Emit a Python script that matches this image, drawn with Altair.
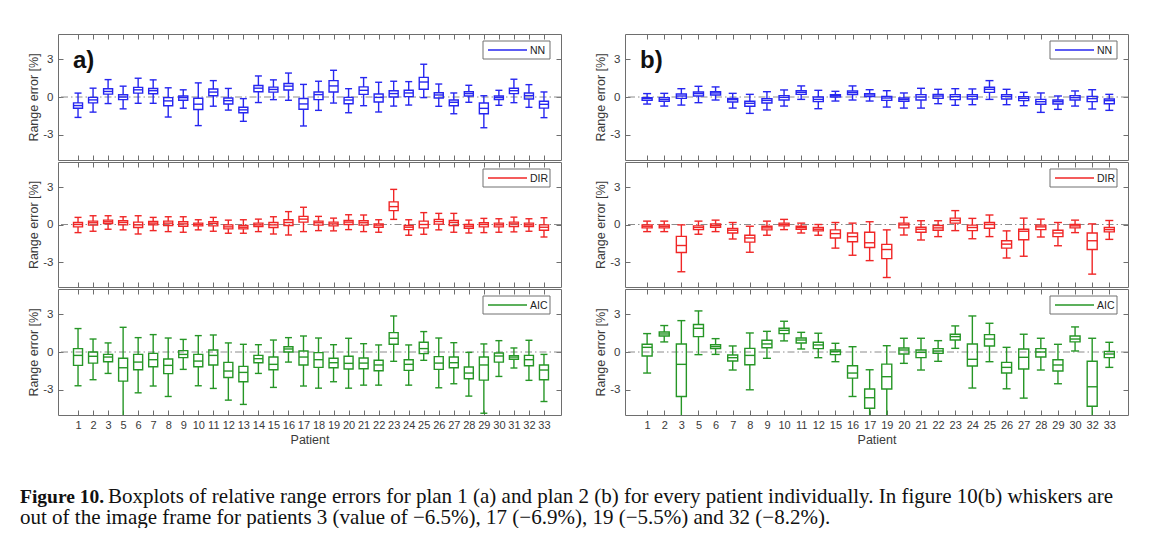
import altair as alt
import pandas as pd

# ---------------- categories ----------------
A_PATIENTS = [1, 2, 3, 5, 6, 7, 8, 9, 10, 11, 12, 13, 14, 15, 16, 17, 18, 19, 20, 21, 22, 23, 24, 25, 26, 27, 28, 29, 30, 31, 32, 33]
B_PATIENTS = [1, 2, 3, 5, 6, 7, 8, 9, 10, 11, 12, 15, 16, 17, 19, 20, 21, 22, 23, 24, 25, 26, 27, 28, 29, 30, 32, 33]
Y_TICKS = [-3, 0, 3]

# ---------------- plan 1 (a) ----------------
A_NN_LO = [-1.62, -1.20, -0.52, -0.94, -0.50, -0.50, -1.59, -0.89, -2.27, -0.73, -1.04, -1.93, -0.44, -0.21, -0.26, -2.30, -1.06, -0.48, -1.25, -0.69, -1.19, -0.72, -0.64, -0.05, -0.74, -1.33, -0.42, -2.44, -0.66, -0.45, -0.82, -1.64]
A_NN_Q1 = [-0.89, -0.47, 0.23, -0.21, 0.31, 0.26, -0.70, -0.26, -0.99, 0.10, -0.55, -1.25, 0.42, 0.39, 0.55, -0.97, -0.21, 0.40, -0.53, 0.21, -0.40, 0.00, 0.03, 0.61, -0.08, -0.69, 0.08, -1.33, -0.21, 0.27, -0.16, -0.88]
A_NN_MED = [-0.68, -0.23, 0.44, 0.00, 0.57, 0.50, -0.31, -0.05, -0.57, 0.39, -0.29, -1.02, 0.70, 0.60, 0.86, -0.55, 0.19, 0.88, -0.24, 0.53, -0.03, 0.27, 0.32, 1.19, 0.16, -0.42, 0.27, -0.90, -0.05, 0.50, 0.11, -0.58]
A_NN_Q3 = [-0.47, -0.03, 0.65, 0.18, 0.76, 0.68, -0.05, 0.08, -0.10, 0.63, -0.08, -0.81, 0.91, 0.78, 1.07, -0.12, 0.40, 1.30, -0.03, 0.80, 0.24, 0.50, 0.53, 1.56, 0.34, -0.24, 0.42, -0.48, 0.08, 0.69, 0.32, -0.34]
A_NN_HI = [0.31, 0.70, 1.38, 0.86, 1.49, 1.36, 0.73, 0.57, 1.12, 1.30, 0.68, -0.13, 1.67, 1.36, 1.90, 1.00, 1.25, 2.12, 0.66, 1.54, 1.17, 1.25, 1.22, 2.60, 1.03, 0.32, 0.93, 0.10, 0.53, 1.41, 0.98, 0.40]

A_DIR_LO = [-0.65, -0.54, -0.38, -0.43, -0.76, -0.49, -0.57, -0.62, -0.43, -0.54, -0.70, -0.70, -0.57, -0.76, -0.84, -0.57, -0.49, -0.51, -0.41, -0.57, -0.62, 0.41, -0.86, -0.78, -0.43, -0.62, -0.68, -0.65, -0.62, -0.59, -0.54, -1.00]
A_DIR_Q1 = [-0.19, -0.05, 0.08, -0.03, -0.24, -0.03, -0.08, -0.14, -0.11, -0.11, -0.35, -0.35, -0.16, -0.24, -0.08, 0.19, -0.05, -0.11, 0.00, -0.05, -0.22, 1.11, -0.41, -0.27, 0.03, -0.08, -0.30, -0.19, -0.19, -0.16, -0.16, -0.46]
A_DIR_MED = [0.00, 0.14, 0.22, 0.16, -0.03, 0.11, 0.11, 0.05, 0.00, 0.08, -0.19, -0.22, -0.03, -0.03, 0.16, 0.43, 0.14, 0.05, 0.19, 0.14, -0.05, 1.43, -0.22, 0.00, 0.24, 0.16, -0.14, 0.00, -0.03, 0.05, -0.03, -0.22]
A_DIR_Q3 = [0.16, 0.27, 0.35, 0.30, 0.19, 0.24, 0.27, 0.22, 0.11, 0.22, -0.03, -0.08, 0.11, 0.16, 0.38, 0.65, 0.27, 0.19, 0.32, 0.30, 0.05, 1.81, -0.08, 0.27, 0.41, 0.32, 0.00, 0.14, 0.11, 0.19, 0.11, -0.03]
A_DIR_HI = [0.57, 0.70, 0.70, 0.62, 0.70, 0.57, 0.62, 0.62, 0.38, 0.57, 0.35, 0.38, 0.43, 0.62, 1.03, 1.38, 0.65, 0.51, 0.78, 0.76, 0.38, 2.81, 0.38, 0.95, 0.89, 0.89, 0.35, 0.49, 0.46, 0.59, 0.46, 0.54]

A_AIC_LO = [-2.68, -2.20, -1.70, -5.10, -3.24, -2.70, -3.53, -1.38, -2.68, -2.89, -3.82, -4.16, -1.70, -2.81, -0.80, -2.70, -2.87, -2.36, -2.87, -2.63, -2.63, -0.74, -2.63, -0.66, -2.84, -2.52, -3.50, -4.86, -1.94, -1.27, -2.25, -3.93]
A_AIC_Q1 = [-1.06, -0.88, -0.77, -2.31, -1.41, -1.17, -1.72, -0.45, -1.17, -1.03, -2.02, -2.36, -0.85, -1.41, 0.00, -1.03, -1.22, -1.25, -1.35, -1.33, -1.49, 0.61, -1.46, -0.13, -1.38, -1.25, -2.12, -2.23, -0.80, -0.58, -1.09, -2.20]
A_AIC_MED = [-0.27, -0.34, -0.40, -1.25, -0.80, -0.61, -1.06, -0.19, -0.72, -0.27, -1.51, -1.62, -0.53, -0.98, 0.24, -0.40, -0.61, -0.85, -0.90, -0.88, -1.03, 1.09, -0.98, 0.27, -0.88, -0.85, -1.67, -1.03, -0.32, -0.40, -0.61, -1.43]
A_AIC_Q3 = [0.27, 0.00, -0.19, -0.50, -0.19, -0.11, -0.56, 0.11, -0.19, 0.16, -0.82, -1.14, -0.27, -0.40, 0.42, 0.08, -0.05, -0.50, -0.34, -0.48, -0.66, 1.54, -0.61, 0.77, -0.37, -0.40, -1.19, -0.40, -0.08, -0.29, -0.27, -1.03]
A_AIC_HI = [1.86, 1.03, 0.72, 1.96, 1.14, 1.38, 1.11, 1.00, 1.30, 1.35, 0.72, 0.61, 0.58, 0.95, 1.14, 1.27, 1.11, 0.58, 1.09, 0.66, 0.56, 2.86, 0.56, 1.62, 1.11, 0.74, -0.03, 0.64, 0.90, 0.32, 0.93, -0.19]

# ---------------- plan 2 (b) ----------------
B_NN_LO = [-0.56, -0.72, -0.64, -0.45, -0.24, -0.88, -1.30, -1.03, -0.72, -0.19, -0.93, -0.32, -0.24, -0.32, -0.80, -0.88, -0.88, -0.53, -0.66, -0.61, -0.19, -0.61, -0.69, -1.22, -0.98, -0.72, -0.95, -1.06]
B_NN_Q1 = [-0.27, -0.34, -0.11, 0.08, 0.16, -0.40, -0.74, -0.48, -0.24, 0.21, -0.37, 0.00, 0.19, 0.03, -0.27, -0.34, -0.24, -0.11, -0.21, -0.16, 0.37, -0.16, -0.29, -0.58, -0.56, -0.24, -0.37, -0.53]
B_NN_MED = [-0.13, -0.19, 0.08, 0.27, 0.32, -0.21, -0.50, -0.27, -0.03, 0.37, -0.19, 0.11, 0.34, 0.16, -0.08, -0.19, 0.00, 0.08, 0.03, 0.05, 0.61, 0.05, -0.11, -0.37, -0.37, -0.05, -0.13, -0.29]
B_NN_Q3 = [-0.05, -0.05, 0.24, 0.40, 0.42, -0.11, -0.34, -0.13, 0.11, 0.50, 0.00, 0.19, 0.48, 0.27, 0.05, -0.08, 0.19, 0.21, 0.19, 0.19, 0.77, 0.19, 0.03, -0.19, -0.24, 0.11, 0.05, -0.16]
B_NN_HI = [0.27, 0.29, 0.66, 0.85, 0.80, 0.29, 0.21, 0.42, 0.56, 0.88, 0.53, 0.45, 0.88, 0.58, 0.50, 0.32, 0.69, 0.61, 0.66, 0.64, 1.30, 0.61, 0.37, 0.32, 0.08, 0.48, 0.58, 0.21]

B_DIR_LO = [-0.57, -0.57, -3.78, -0.78, -0.57, -1.16, -2.22, -0.86, -0.41, -0.68, -0.86, -1.89, -2.46, -2.89, -4.24, -0.84, -1.24, -0.97, -0.49, -1.14, -0.97, -2.68, -2.54, -1.00, -1.70, -0.65, -3.97, -1.19]
B_DIR_Q1 = [-0.27, -0.27, -2.24, -0.41, -0.22, -0.68, -1.41, -0.43, -0.11, -0.38, -0.51, -1.08, -1.38, -1.84, -2.73, -0.27, -0.62, -0.46, 0.11, -0.49, -0.30, -1.89, -1.22, -0.41, -0.97, -0.27, -2.00, -0.59]
B_DIR_MED = [-0.14, -0.14, -1.68, -0.24, -0.08, -0.46, -1.08, -0.27, 0.00, -0.24, -0.38, -0.73, -0.97, -1.46, -2.00, -0.03, -0.38, -0.27, 0.32, -0.24, 0.00, -1.57, -0.54, -0.19, -0.68, -0.11, -1.30, -0.41]
B_DIR_Q3 = [-0.03, -0.03, -0.95, -0.11, 0.05, -0.32, -0.86, -0.14, 0.11, -0.14, -0.24, -0.43, -0.68, -0.62, -1.59, 0.11, -0.22, -0.08, 0.51, -0.05, 0.16, -1.30, -0.38, -0.05, -0.46, 0.00, -0.68, -0.24]
B_DIR_HI = [0.27, 0.27, -0.03, 0.27, 0.35, 0.16, -0.14, 0.27, 0.41, 0.11, 0.00, 0.16, 0.11, 0.22, -0.43, 0.57, 0.30, 0.30, 1.11, 0.49, 0.76, -0.51, 0.51, 0.43, 0.16, 0.35, 0.05, 0.32]

B_AIC_LO = [-1.67, 0.80, -6.50, -0.21, -0.19, -1.43, -3.00, -0.50, 0.88, 0.24, -0.45, -0.77, -3.53, -6.90, -5.50, -0.90, -1.43, -0.74, 0.29, -2.86, -0.77, -2.92, -3.66, -1.43, -2.52, 0.08, -8.20, -1.22]
B_AIC_Q1 = [-0.32, 1.27, -3.53, 1.22, 0.27, -0.72, -1.01, 0.34, 1.46, 0.72, 0.27, -0.21, -2.07, -4.46, -2.94, -0.16, -0.45, -0.11, 0.95, -1.11, 0.48, -1.67, -1.35, -0.40, -1.51, 0.80, -4.30, -0.45]
B_AIC_MED = [0.37, 1.43, -0.98, 1.88, 0.42, -0.45, -0.27, 0.64, 1.72, 0.95, 0.56, 0.03, -1.67, -3.63, -1.96, 0.16, -0.03, 0.08, 1.22, -0.58, 1.03, -1.22, -0.42, 0.00, -1.03, 1.03, -2.76, -0.16]
B_AIC_Q3 = [0.61, 1.59, 0.64, 2.18, 0.58, -0.24, 0.29, 0.93, 1.88, 1.11, 0.77, 0.16, -1.09, -2.94, -0.96, 0.32, 0.16, 0.27, 1.41, 0.64, 1.38, -0.82, 0.24, 0.27, -0.61, 1.27, -0.74, 0.05]
B_AIC_HI = [1.46, 2.10, 2.49, 3.26, 1.06, 0.48, 1.51, 1.64, 2.44, 1.56, 1.49, 0.69, 0.42, -1.41, 0.50, 1.09, 1.09, 0.90, 2.07, 2.86, 2.28, 0.37, 1.41, 1.09, 0.61, 1.99, 1.09, 0.77]

SERIES_COLORS = {"NN": "#2626f0", "DIR": "#f02626", "AIC": "#269626"}

CAPTION_BOLD = "Figure 10."
CAPTION_LINE1 = "Boxplots of relative range errors for plan 1 (a) and plan 2 (b) for every patient individually. In figure 10(b) whiskers are"
CAPTION_LINE2 = "out of the image frame for patients 3 (value of \u22126.5%), 17 (\u22126.9%), 19 (\u22125.5%) and 32 (\u22128.2%)."

FONT = "Liberation Sans"
SERIF = "Liberation Serif"
AXIS_GREY = "#6e6e6e"
TEXT_GREY = "#3a3a3a"
PANEL_W = 503
HEIGHTS = [126, 125, 126]


def subplot(patients, lo, q1, med, q3, hi, name, width, height,
            box_w, cap_w, bottom_labels, panel_label):
    color = SERIES_COLORS[name]
    n = len(patients)
    df = pd.DataFrame({"idx": list(range(1, n + 1)), "patient": patients,
                       "lo": lo, "q1": q1, "med": med, "q3": q3, "hi": hi})
    one = pd.DataFrame({"k": [0]})
    xscale = alt.Scale(domain=[0, n + 0.8], nice=False, zero=False)
    yscale = alt.Scale(domain=[-5, 5], nice=False, zero=False)
    lab_expr = "[" + ",".join("'%s'" % p for p in patients) + "][datum.value - 1]"
    common = dict(values=list(range(1, n + 1)), offset=-5, tickSize=5, domain=False,
                  grid=False, tickColor=AXIS_GREY, tickWidth=1)
    bottom_axis = alt.Axis(orient="bottom", labels=bottom_labels, labelExpr=lab_expr,
                           title="Patient" if bottom_labels else "",
                           labelFont=FONT, labelFontSize=11, labelColor=TEXT_GREY,
                           labelPadding=4, labelFlush=False, labelOverlap=False,
                           titleFont=FONT, titleFontSize=12.5, titleFontWeight="normal",
                           titleColor=TEXT_GREY, titlePadding=3, **common)
    top_axis = alt.Axis(orient="top", labels=False, title="", **common)
    ycommon = dict(values=Y_TICKS, offset=-5, tickSize=5, domain=False, grid=False,
                   tickColor=AXIS_GREY, tickWidth=1)
    left_axis = alt.Axis(orient="left", labelExpr="'' + datum.value", labelFont=FONT,
                         labelFontSize=11.5, labelColor=TEXT_GREY, labelPadding=5,
                         title="Range error [%]", titleFont=FONT, titleFontSize=12.5,
                         titleFontWeight="normal", titleColor=TEXT_GREY, titlePadding=2,
                         **ycommon)
    right_axis = alt.Axis(orient="right", labels=False, title="", **ycommon)

    base = alt.Chart(df)
    zero = alt.Chart(one).mark_rule(color="#8c8c8c", strokeWidth=1,
                                    strokeDash=[7, 3, 1.5, 3]).encode(
        y=alt.Y(datum=0, type="quantitative", scale=yscale, axis=left_axis))
    w_up = base.mark_rule(color=color, strokeWidth=1.4, clip=True).encode(
        x=alt.X("idx:Q", scale=xscale, axis=bottom_axis),
        y=alt.Y("q3:Q", scale=yscale, axis=right_axis), y2="hi:Q")
    w_dn = base.mark_rule(color=color, strokeWidth=1.4, clip=True).encode(
        x=alt.X("idx:Q", scale=xscale, axis=top_axis),
        y=alt.Y("lo:Q", scale=yscale, axis=None), y2="q1:Q")
    box = base.mark_bar(size=box_w, fillOpacity=0, stroke=color, strokeWidth=1.4,
                        clip=True).encode(
        x=alt.X("idx:Q", scale=xscale, axis=None),
        y=alt.Y("q1:Q", scale=yscale, axis=None), y2="q3:Q")
    median = base.mark_tick(orient="horizontal", size=box_w, thickness=1.4,
                            color=color, opacity=1, clip=True).encode(
        x=alt.X("idx:Q", scale=xscale, axis=None),
        y=alt.Y("med:Q", scale=yscale, axis=None))
    cap_hi = base.mark_tick(orient="horizontal", size=cap_w, thickness=1.4,
                            color=color, opacity=1, clip=True).encode(
        x=alt.X("idx:Q", scale=xscale, axis=None),
        y=alt.Y("hi:Q", scale=yscale, axis=None))
    cap_lo = base.mark_tick(orient="horizontal", size=cap_w, thickness=1.4,
                            color=color, opacity=1, clip=True).encode(
        x=alt.X("idx:Q", scale=xscale, axis=None),
        y=alt.Y("lo:Q", scale=yscale, axis=None))
    # legend box (top-right)
    leg_box = alt.Chart(one).mark_rect(fill="white", stroke="#707070", strokeWidth=1).encode(
        x=alt.value(width - 78), x2=alt.value(width - 11),
        y=alt.value(7), y2=alt.value(25))
    leg_line = alt.Chart(one).mark_rule(color=color, strokeWidth=1.3).encode(
        x=alt.value(width - 73), x2=alt.value(width - 34), y=alt.value(16))
    leg_text = alt.Chart(one).mark_text(align="left", baseline="middle", font=FONT,
                                        fontSize=10.5, color="#222222").encode(
        x=alt.value(width - 31), y=alt.value(16.5), text=alt.value(name))
    layers = [zero, w_up, w_dn, box, median, cap_hi, cap_lo, leg_box, leg_line, leg_text]
    if panel_label:
        lab = alt.Chart(one).mark_text(align="left", baseline="middle", font=FONT,
                                       fontSize=24, fontWeight="bold", color="#111111").encode(
            x=alt.value(15), y=alt.value(27), text=alt.value(panel_label))
        layers.append(lab)
    return alt.layer(*layers).resolve_axis(x="independent", y="independent").properties(
        width=width, height=height)


def panel(patients, data, label, box_w, cap_w):
    rows = []
    for i, (name, stats) in enumerate(data):
        rows.append(subplot(patients, *stats, name, PANEL_W, HEIGHTS[i], box_w, cap_w,
                            bottom_labels=(i == 2), panel_label=(label if i == 0 else "")))
    return alt.vconcat(*rows, spacing=0)


panel_a = panel(A_PATIENTS, [
    ("NN", (A_NN_LO, A_NN_Q1, A_NN_MED, A_NN_Q3, A_NN_HI)),
    ("DIR", (A_DIR_LO, A_DIR_Q1, A_DIR_MED, A_DIR_Q3, A_DIR_HI)),
    ("AIC", (A_AIC_LO, A_AIC_Q1, A_AIC_MED, A_AIC_Q3, A_AIC_HI)),
], "a)", 9, 7)

panel_b = panel(B_PATIENTS, [
    ("NN", (B_NN_LO, B_NN_Q1, B_NN_MED, B_NN_Q3, B_NN_HI)),
    ("DIR", (B_DIR_LO, B_DIR_Q1, B_DIR_MED, B_DIR_Q3, B_DIR_HI)),
    ("AIC", (B_AIC_LO, B_AIC_Q1, B_AIC_MED, B_AIC_Q3, B_AIC_HI)),
], "b)", 10, 8)

one = pd.DataFrame({"k": [0]})
cap_bold = alt.Chart(one).mark_text(align="left", baseline="alphabetic", font=SERIF,
                                    fontSize=19.5, fontWeight="bold", color="#111111").encode(
    x=alt.value(-38), y=alt.value(57), text=alt.value(CAPTION_BOLD))
cap_l1 = alt.Chart(one).mark_text(align="left", baseline="alphabetic", font=SERIF,
                                  fontSize=21, color="#111111").encode(
    x=alt.value(50), y=alt.value(57), text=alt.value(CAPTION_LINE1))
cap_l2 = alt.Chart(one).mark_text(align="left", baseline="alphabetic", font=SERIF,
                                  fontSize=21, color="#111111").encode(
    x=alt.value(-38), y=alt.value(78), text=alt.value(CAPTION_LINE2))
caption = alt.layer(cap_bold, cap_l1, cap_l2).properties(
    width=1050, height=79, view=alt.ViewBackground(strokeOpacity=0))

chart = alt.vconcat(
    alt.hconcat(panel_a, panel_b, spacing=32),
    caption, spacing=0
).properties(
    padding={"left": 12, "top": 25, "right": 5, "bottom": 0},
    background="white"
).configure_view(stroke=AXIS_GREY, strokeWidth=1)

chart.save("out.html", embed_options={"renderer": "svg", "actions": False})
